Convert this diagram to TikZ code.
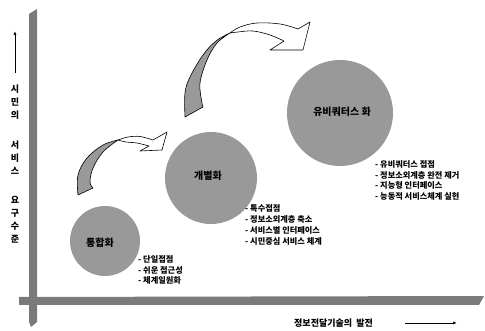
\documentclass[tikz,border=0pt]{standalone}
\usepackage{fontspec}
\newfontfamily\kr{Noto Sans CJK KR}
\usetikzlibrary{arrows.meta}
\begin{document}
\begin{tikzpicture}[x=1pt,y=-1pt,
  bar/.style={fill=black!52},
  bubble/.style={circle, fill=black!40, inner sep=0pt},
  ribbon/.style={fill=black!40, draw=black, line width=0.6pt, line join=round},
  ribbonhead/.style={fill=white, draw=black, line width=0.6pt, line join=round},
  title/.style={font=\kr\bfseries\fontsize{10}{12}\selectfont, inner sep=0pt},
  list/.style={font=\kr\bfseries\fontsize{8.2}{10.8}\selectfont, align=left, anchor=west, inner sep=0pt},
  axistext/.style={font=\kr\bfseries\fontsize{9}{13}\selectfont, align=center, inner sep=0pt},
  axisarrow/.style={-{Latex[length=4pt,width=3pt]}, line width=0.8pt}]
\useasboundingbox (0,0) rectangle (485,331);

% axes bars
\fill[bar] (29,14) -- (37,9) -- (37,322) -- (31,327) -- (29,322) -- cycle;
\fill[bar] (19,297) -- (484,296) -- (479,305) -- (19,305) -- cycle;

% circles
\node[bubble, minimum size=70pt] (c1) at (105,241) {};
\node[bubble, minimum size=92pt] (c2) at (211,178) {};
\node[bubble, minimum size=106pt] (c3) at (340,113) {};

\node[title] (t1) at (100,243) {통합화};
\node[title] (t2) at (208,176) {개별화};
\node[title] (t3) at (342,112) {유비쿼터스 화};

% lists
\node[list] (l1) at (138,270) {- 단일접점\\- 쉬운 접근성\\- 체계일원화};
\node[list] (l2) at (245,225) {- 특수접점\\- 정보소외계층 축소\\- 서비스별 인터페이스\\- 시민중심 서비스 체계};
\node[list] (l3) at (375,180.5) {- 유비쿼터스 접점\\- 정보소외계층 완전 제거\\- 지능형 인터페이스\\- 능동적 서비스체계 실현};

% lower curved arrow
\filldraw[ribbon] (78,195) -- plot[smooth, tension=0.6] coordinates {(78,195) (78,175) (87,158) (103,145) (118,140)}
  -- plot[smooth, tension=0.6] coordinates {(118,140) (103,152) (93,168) (90,182) (93,188)} -- cycle;
\filldraw[ribbonhead] (118,140) -- plot[smooth, tension=0.6] coordinates {(118,140) (128,137) (140,136.5) (153,140)}
  -- (167,132) -- (162,150) -- (140,151) -- (149,146)
  -- plot[smooth, tension=0.6] coordinates {(149,146) (137,143) (126,142) (118,140)} -- cycle;

% upper curved arrow
\filldraw[ribbon] (185,117) -- plot[smooth, tension=0.6] coordinates {(185,117) (185,93) (190,77) (203,55) (216,41) (230,33)}
  -- plot[smooth, tension=0.6] coordinates {(230,33) (217,43) (207,60) (200,83) (202,103) (203,107)} -- cycle;
\filldraw[ribbonhead] (230,33) -- plot[smooth, tension=0.6] coordinates {(230,33) (240,27) (257,23) (280,24) (298,29)}
  -- (310,22) -- (303,50) -- (270,50) -- (284,41)
  -- plot[smooth, tension=0.6] coordinates {(284,41) (270,35) (253,31) (238,32) (230,33)} -- cycle;

% vertical axis label
\coordinate (ya) at (15,73);
\coordinate (yb) at (15,31);
\draw[axisarrow] (ya) -- (yb);
\node[axistext] (v1) at (15,102) {시\\민\\의};
\node[axistext] (v2) at (15,158) {서\\비\\스};
\node[axistext] (v3) at (15,220) {요\\구\\수\\준};

% horizontal axis label
\node[axistext, anchor=west] (h1) at (294,323) {정보전달기술의\ \ 발전};
\coordinate (xa) at (405,323);
\coordinate (xb) at (457,323);
\draw[axisarrow] (xa) -- (xb);
\end{tikzpicture}
\end{document}
